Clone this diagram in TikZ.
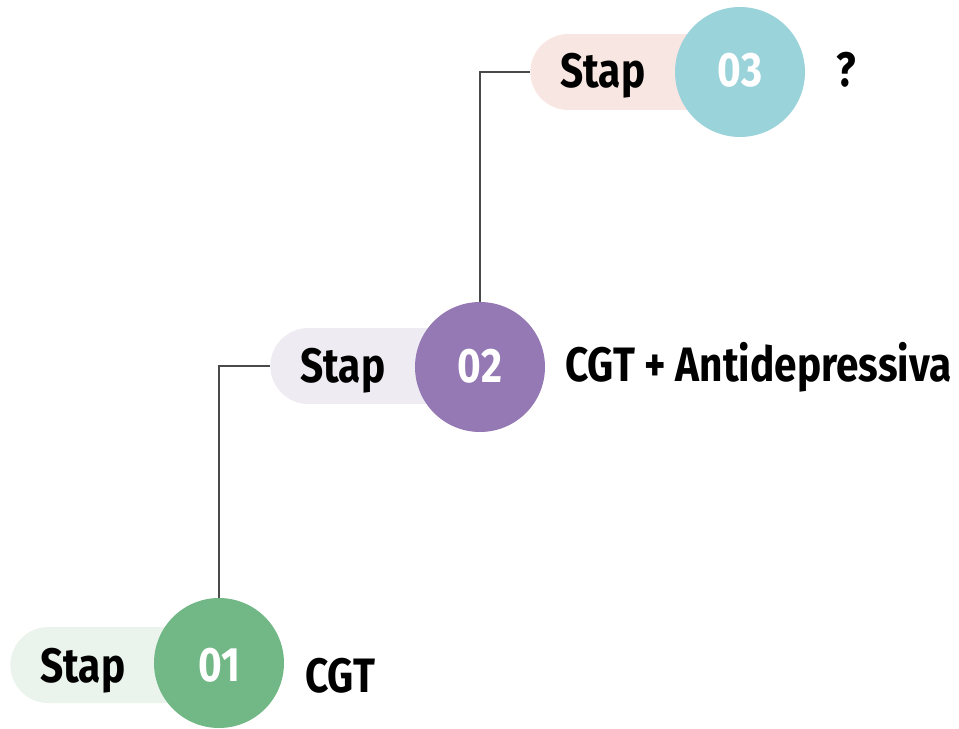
\documentclass[tikz,border=0pt]{standalone}
\usepackage{fontspec}
\newfontfamily\stapfont{Fira Sans}[FakeStretch=0.84]
\usetikzlibrary{positioning}

\definecolor{groen}{HTML}{72B886}
\definecolor{groenlicht}{HTML}{EAF4EC}
\definecolor{paars}{HTML}{9479B4}
\definecolor{paarslicht}{HTML}{EFEBF3}
\definecolor{blauw}{HTML}{9BD3DA}
\definecolor{roze}{HTML}{F8E6E2}
\definecolor{lijn}{HTML}{4A4A4A}

\tikzset{
  pil/.style={rectangle,rounded corners=0.76cm,minimum height=1.52cm,minimum width=4.18cm,inner sep=0pt,anchor=west},
  bol/.style={circle,minimum size=2.6cm,inner sep=0pt},
  tekst/.style={inner sep=0pt,font=\stapfont\bfseries\fontsize{27.5}{30}\selectfont},
  nummer/.style={tekst,text=white,anchor=base},
  verbinding/.style={draw=lijn,line width=1.1pt},
}

\begin{document}
\begin{tikzpicture}[x=0.02cm,y=-0.02cm]
  \useasboundingbox (0,0) rectangle (959,729);

  % stap 01
  \node [pil,fill=groenlicht] (p1) at (10,665) {};
  \node [tekst,anchor=base west] (s1) at (40,682) {Stap};
  \node [bol,fill=groen] (c1) at (219,663) {};
  \node [nummer] (n1) at (219,681) {01};
  \node [tekst,anchor=base west] (l1) at (305,692) {CGT};

  % stap 02
  \node [pil,fill=paarslicht] (p2) at (270,366) {};
  \node [tekst,anchor=base west] (s2) at (300,382) {Stap};
  \node [bol,fill=paars] (c2) at (480,367) {};
  \node [nummer] (n2) at (480,382) {02};
  \node [tekst,anchor=base west] (l2) at (565,381) {CGT + Antidepressiva};

  % stap 03
  \node [pil,fill=roze] (p3) at (530,72) {};
  \node [tekst,anchor=base west] (s3) at (560,88) {Stap};
  \node [bol,fill=blauw] (c3) at (740,72) {};
  \node [nummer] (n3) at (740,87) {03};
  \node [tekst,anchor=base west] (l3) at (836,87) {?};

  \draw [verbinding] (c1.north) |- (p2.west);
  \draw [verbinding] (c2.north) |- (p3.west);
\end{tikzpicture}
\end{document}
